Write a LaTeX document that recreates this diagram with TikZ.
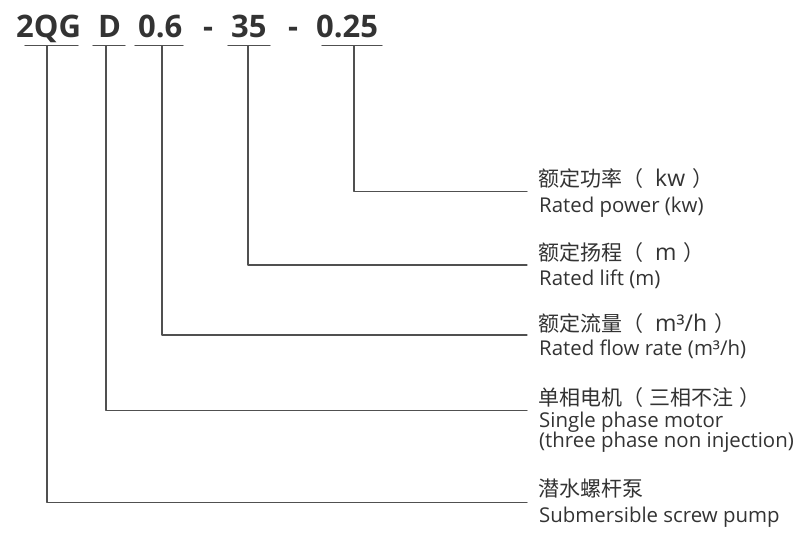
\documentclass[tikz,border=0pt]{standalone}
\usepackage{fontspec}
\setmainfont{Open Sans}
\newfontfamily\cjk{Noto Sans CJK SC}
\usetikzlibrary{calc}
\definecolor{ink}{HTML}{333333}
\definecolor{rulegray}{HTML}{505050}
\newcommand\latin[1]{{\rmfamily\fontsize{23}{23}\selectfont #1}}
\tikzset{
every picture/.append style={
    line join=round,
    line cap=round
  },
code/.style={anchor=base west,inner sep=0pt,text=ink,font=\fontsize{31}{31}\selectfont\bfseries},
zh/.style={anchor=base west,inner sep=0pt,text=ink,font=\cjk\fontsize{21}{21}\selectfont},
en/.style={anchor=base west,inner sep=0pt,text=ink,font=\fontsize{20.4}{20.4}\selectfont},
lead/.style={draw=rulegray,line width=1.2pt}
}

\begin{document}
\begin{tikzpicture}[x=1pt,y=-1pt]
        \useasboundingbox (0,0) rectangle (800,538);
        % model code
        \node [code] (c2qg) at (16,37) {2QG};
        \node [code] (cd) at (98,37) {D};
        \node [code] (cflow) at (138,37) {0.6};
        \node [code] (dasha) at (203,37) {-};
        \node [code] (clift) at (231,37) {35};
        \node [code] (dashb) at (288,37) {-};
        \node [code] (cpower) at (316,37) {0.25};
        % underlines
        \draw [lead] (25,45.7) -- (78,45.7);
        \draw [lead] (93,45.7) -- (125,45.7);
        \draw [lead] (135,45.7) -- (183,45.7);
        \draw [lead] (228,45.7) -- (270,45.7);
        \draw [lead] (322,45.7) -- (382,45.7);
        \coordinate (u2qg) at (47,45.7);
        \coordinate (ud) at (106,45.7);
        \coordinate (uflow) at (162,45.7);
        \coordinate (ulift) at (248,45.7);
        \coordinate (upower) at (354,45.7);
        % line ends
        \coordinate (epower) at (527,191.7);
        \coordinate (elift) at (527,265);
        \coordinate (eflow) at (527,335);
        \coordinate (emotor) at (527,410.5);
        \coordinate (epump) at (527,502.7);
        \draw [lead] (upower) |- (epower);
        \draw [lead] (ulift) |- (elift);
        \draw [lead] (uflow) |- (eflow);
        \draw [lead] (ud) |- (emotor);
        \draw [lead] (u2qg) |- (epump);
        % labels
        \node [zh] (zhpower) at ($(epower)+(11,-5)$) {额定功率（\hspace{12pt}\latin{kw}\hspace{7pt}）};
        \node [en] (enpower) at ($(epower)+(12,20.5)$) {Rated power (kw)};
        \node [zh] (zhlift) at ($(elift)+(11,-4.5)$) {额定扬程（\hspace{12pt}\latin{m}\hspace{7pt}）};
        \node [en] (enlift) at ($(elift)+(12,20.5)$) {Rated lift (m)};
        \node [zh] (zhflow) at ($(eflow)+(11,-3.5)$) {额定流量（\hspace{12pt}\latin{m³/h}\hspace{7pt}）};
        \node [en] (enflow) at ($(eflow)+(12,20)$) {Rated flow rate (m³/h)};
        \node [zh] (zhmotor) at ($(emotor)+(11,-5)$) {单相电机（\hspace{6pt}三相不注\hspace{6pt}）};
        \node [en] (enmotor) at ($(emotor)+(12,16.5)$) {Single phase motor};
        \node [en] (enmotorb) at ($(emotor)+(12,36.5)$) {(three phase non injection)};
        \node [zh] (zhpump) at ($(epump)+(11,-6)$) {潜水螺杆泵};
        \node [en] (enpump) at ($(epump)+(12,20)$) {Submersible screw pump};
    \end{tikzpicture}
\end{document}
